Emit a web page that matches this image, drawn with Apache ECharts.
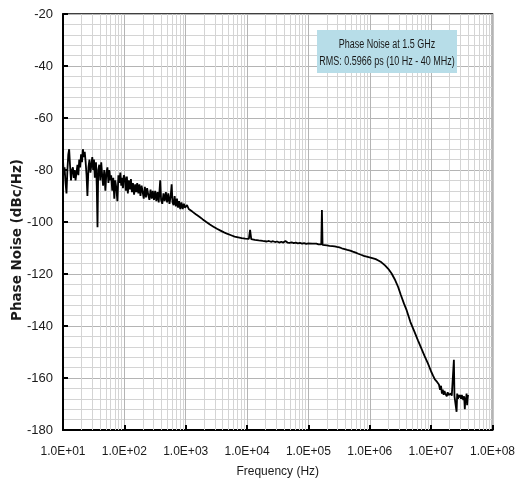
<!DOCTYPE html>
<html>
<head>
<meta charset="utf-8">
<script src="https://cdn.jsdelivr.net/npm/echarts@6/dist/echarts.min.js"></script>
<style>
html,body{margin:0;padding:0;background:#fff;}
#chart{width:518px;height:491px;}
</style>
</head>
<body>
<div id="chart"></div>
<script>
// ---- Data ----
const decadeExponents = [1, 2, 3, 4, 5, 6, 7, 8];
const annotationLines = ['Phase Noise at 1.5 GHz', 'RMS: 0.5966 ps (10 Hz - 40 MHz)'];
const xTitle = 'Frequency (Hz)';
const yTitle = 'Phase Noise (dBc/Hz)';

const freqHz = [
  10, 10.3, 10.6, 11, 11.4, 11.8, 12.2, 12.6, 13, 13.5, 14, 14.5, 15, 15.5, 16, 16.6, 17.2, 17.8, 18.4, 19,
  19.7, 20.4, 21.1, 21.8, 22.6, 23.4, 24.2, 25, 26, 27, 28, 29, 30, 31, 32, 33, 34.5, 35.5, 36.5, 37.5,
  39, 40.5, 42, 43.5, 45, 47, 49, 51, 53, 55, 57, 59, 61, 63.5, 66, 68.5, 71, 74, 77, 80,
  83, 86, 89, 92, 95, 98,
  102, 106, 110, 114, 118, 123, 128, 133, 138, 144, 150, 156, 162, 169, 176, 183, 191, 199, 207, 216,
  225, 235, 245, 256, 267, 279, 291, 304, 318, 332, 347, 363, 384, 397, 415, 434, 454, 475, 497, 520,
  544, 569, 590, 610, 635, 660, 690, 720, 750, 780, 815, 853, 892, 933, 976,
  1050, 1120, 1200, 1280, 1370, 1460, 1560, 1670, 1780, 1900, 2030, 2170, 2320, 2480, 2650, 2830, 3020, 3230, 3450, 3690,
  3940, 4210, 4500, 4810, 5140, 5490, 5870, 6270, 6700, 7160, 7650, 8180, 8740, 9340, 10000,
  10700, 11200, 11700, 12500, 13400, 14400, 15500, 16700, 18000, 19400, 21000, 22700, 24500, 26500, 28600, 30900, 33400, 36100, 39000, 42200,
  45600, 49300, 53300, 57600, 62300, 67300, 72800, 78700, 85100, 92000, 99400,
  107000, 116000, 125000, 135000, 146000, 155000, 162000, 166000, 170000, 180000, 200000, 220000, 245000, 268000, 280000, 292000, 320000, 350000, 390000, 430000,
  480000, 530000, 590000, 650000, 720000, 800000, 890000, 990000,
  1100000, 1250000, 1380000, 1550000, 1770000, 2000000, 2270000, 2550000, 2900000, 3200000, 3600000, 4000000, 4600000, 5300000, 6100000, 6900000, 7800000, 8900000, 10000000,
  10700000, 11500000, 12500000, 13400000, 14000000, 14500000, 15000000, 15500000, 16000000, 16500000, 17000000, 17500000, 18000000, 18600000, 19200000, 19800000, 20400000, 21000000, 21700000, 22400000,
  23000000, 23500000, 24000000, 24700000, 25500000, 26000000, 26600000, 27400000, 28200000, 29000000, 29800000, 30700000, 31600000, 32500000, 33500000, 34500000, 35400000, 36200000, 37000000, 37800000,
  38600000, 39300000, 40000000
];

const phaseNoise = [
  -76, -82, -79, -85, -89, -80, -74, -72, -78, -84, -80, -79, -83, -80, -84, -81, -78, -82, -76, -79,
  -74, -77, -72, -75, -73, -77, -82, -90, -79, -76, -81, -78, -75, -80, -76, -83, -77, -86, -102, -80,
  -78, -84, -77, -82, -86, -80, -88, -81, -79, -85, -80, -84, -82, -88, -83, -91, -84, -87, -92, -82,
  -85, -81, -86, -83, -87, -82,
  -83, -88, -82.5, -89, -84, -87.5, -83.5, -88.5, -85, -89.5, -85.5, -88.5, -85, -89, -85.5, -90, -86, -88.5, -91, -86.5,
  -90.5, -87, -89.5, -91.5, -87.5, -91, -88, -91.5, -88, -92, -88.5, -92.5, -84, -91.5, -93, -89, -92, -88.5, -92.5, -89,
  -93, -90, -85.5, -92.5, -93.5, -90, -94, -91, -94.5, -92, -95, -92.5, -95, -93, -94.5,
  -93.5, -95, -94.5, -96, -95.5, -97, -96.5, -98, -97.5, -99, -98.5, -100, -99.5, -101, -100.5, -101.8, -101.5, -102.6, -102.3, -103.3,
  -103, -104, -103.7, -104.6, -104.3, -105.1, -104.9, -105.6, -105.3, -105.9, -105.7, -106.2, -106, -106.4, -106.2,
  -106.5, -103, -106.6, -106.4, -106.9, -106.7, -107.1, -106.9, -107.3, -107.1, -107.5, -107.3, -107.6, -107.4, -107.7, -107.5, -107.9, -107.6, -107.9, -107.3,
  -107.9, -108, -107.8, -108.1, -107.9, -108.2, -108, -108.3, -108.1, -108.4, -108.2,
  -108.4, -108.3, -108.5, -108.3, -108.6, -108.5, -108.6, -95.4, -108.8, -108.9, -109, -109.2, -109.3, -109.4, -108.7, -109.6, -109.8, -110.1, -110.4, -110.7,
  -111, -111.4, -111.8, -112.2, -112.6, -113, -113.3, -113.6,
  -113.9, -114.3, -114.8, -115.5, -116.7, -118, -119.8, -122, -125, -128, -131.3, -134, -138.5, -142, -145.5, -148.5, -151.5, -154.5, -157.5,
  -159, -160.5, -161.5, -162.5, -164.5, -163, -166, -164.5, -166.5, -165, -166, -165.5, -167, -165.5, -166.5, -166, -167, -166, -166.8, -166.2,
  -166.8, -153, -167, -166.5, -167.5, -173, -166, -168, -166.5, -167.5, -166.5, -168, -166.5, -167, -168.5, -167, -172, -167.5, -169, -166,
  -170.5, -168, -166.5
];

const yMin = -180, yMax = -20, yStep = 20;

// ---- Build chart ----
const seriesData = freqHz.map((f, i) => [f, phaseNoise[i]]);

// minor log grid lines (2..9 within each decade) – axis decoration
const minorLines = [];
decadeExponents.slice(0, -1).forEach(e => {
  for (let k = 2; k <= 9; k++) minorLines.push({ xAxis: k * Math.pow(10, e) });
});

const labelFont = '"Liberation Sans", Arial, sans-serif';

const chart = echarts.init(document.getElementById('chart'), null, { renderer: 'canvas' });
chart.setOption({
  animation: false,
  backgroundColor: '#ffffff',
  grid: {
    left: 63, top: 14, right: 19, bottom: 61,
    show: true, borderColor: '#000', borderWidth: 1.5, backgroundColor: 'transparent'
  },
  xAxis: {
    type: 'log',
    logBase: 10,
    min: Math.pow(10, decadeExponents[0]),
    max: Math.pow(10, decadeExponents[decadeExponents.length - 1]),
    splitNumber: 7,
    name: xTitle,
    nameLocation: 'middle',
    nameGap: 36,
    nameTextStyle: { fontFamily: labelFont, fontSize: 12, color: '#1a1a1a' },
    axisLine: { show: true, lineStyle: { color: '#000', width: 2 } },
    axisTick: { show: true, inside: true, length: 5, lineStyle: { color: '#000', width: 2 } },
    axisLabel: {
      margin: 16,
      fontFamily: labelFont, fontSize: 12, color: '#1a1a1a',
      formatter: v => '1.0E+' + String(Math.round(Math.log10(v))).padStart(2, '0')
    },
    splitLine: { show: true, lineStyle: { color: '#b4b4b4', width: 1 } },
    minorTick: { show: false },
    minorSplitLine: { show: false }
  },
  yAxis: {
    type: 'value',
    min: yMin, max: yMax, interval: yStep,
    axisLine: { show: true, onZero: false, lineStyle: { color: '#000', width: 2 } },
    axisTick: { show: true, inside: true, length: 5, lineStyle: { color: '#000', width: 2 } },
    axisLabel: { margin: 10, fontFamily: labelFont, fontSize: 13, color: '#1a1a1a' },
    splitLine: { show: true, lineStyle: { color: '#b4b4b4', width: 1 } },
    minorTick: { show: false, splitNumber: 5 },
    minorSplitLine: { show: true, lineStyle: { color: '#d4d4d4', width: 1 } }
  },
  graphic: [
    {
      type: 'text',
      x: 17, y: 240,
      z: 100,
      rotation: Math.PI / 2,
      style: {
        text: yTitle,
        font: 'bold 13.5px "DejaVu Sans", sans-serif',
        fill: '#1a1a1a',
        align: 'center',
        verticalAlign: 'middle'
      }
    },
    {
      type: 'group',
      x: 317, y: 30,
      z: 100,
      children: [
        { type: 'rect', z: 100, shape: { x: 0, y: 0, width: 140, height: 43 }, style: { fill: '#b7dde8' } },
        {
          type: 'text', z: 101, x: 70, y: 15, scaleX: 0.72,
          style: { text: annotationLines[0], font: '12.5px ' + labelFont, fill: '#1a1a1a', align: 'center', verticalAlign: 'middle' }
        },
        {
          type: 'text', z: 101, x: 70, y: 32, scaleX: 0.72,
          style: { text: annotationLines[1], font: '12.5px ' + labelFont, fill: '#1a1a1a', align: 'center', verticalAlign: 'middle' }
        }
      ]
    }
  ],
  series: [
    {
      type: 'line',
      data: [],
      z: 1,
      silent: true,
      markLine: {
        silent: true,
        symbol: ['none', 'none'],
        label: { show: false },
        lineStyle: { color: '#d4d4d4', width: 1, type: 'solid' },
        data: minorLines,
        animation: false
      }
    },
    {
      type: 'line',
      data: seriesData,
      z: 5,
      showSymbol: false,
      symbol: 'none',
      lineStyle: { color: '#000', width: 1.8 },
      silent: true
    }
  ]
});
</script>
</body>
</html>
